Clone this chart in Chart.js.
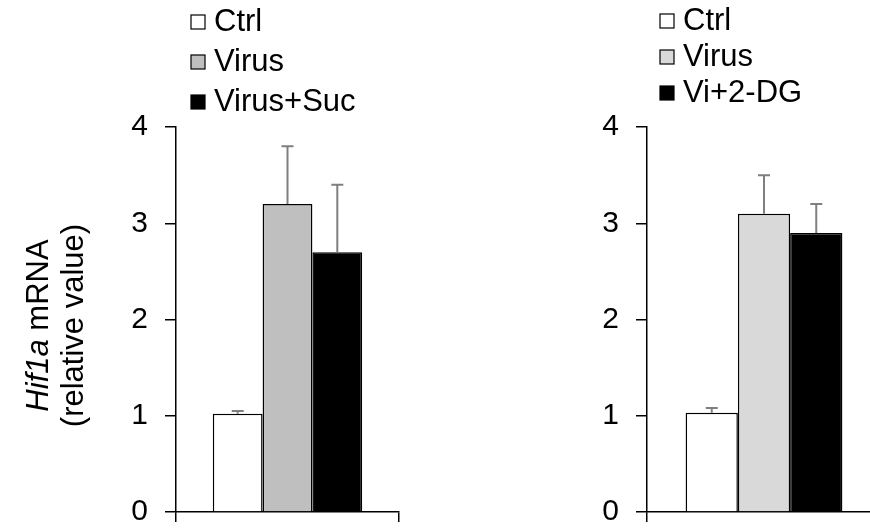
<!DOCTYPE html>
<html>
<head>
<meta charset="utf-8">
<script src="https://cdn.jsdelivr.net/npm/chart.js@4.4.0/dist/chart.umd.min.js"></script>
<style>
  html, body { margin: 0; padding: 0; background: #fff; overflow: hidden; }
  #wrap { width: 870px; height: 528px; position: relative; overflow: hidden; }
  .panel { position: absolute; top: 0; height: 528px; }
</style>
</head>
<body>
<div id="wrap">
<div class="panel" style="left:0;width:430px"><canvas id="leftChart"></canvas></div>
<div class="panel" style="left:430px;width:470px"><canvas id="rightChart"></canvas></div>
</div>
<script>
// data
var yTicks = [0, 1, 2, 3, 4];
var leftLabels = ['Ctrl', 'Virus', 'Virus+Suc'];
var leftMeans = [1.02, 3.2, 2.7];
var leftErrs = [0.03, 0.6, 0.7];
var leftColors = ['#ffffff', '#bfbfbf', '#000000'];

var rightLabels = ['Ctrl', 'Virus', 'Vi+2-DG'];
var rightMeans = [1.03, 3.1, 2.9];
var rightErrs = [0.05, 0.4, 0.3];
var rightColors = ['#ffffff', '#d9d9d9', '#000000'];

var FONT = 'Arial, "Liberation Sans", sans-serif';
var FS = 30;

// error bars (only upper whisker)
var errorBars = {
    id: 'errorBars',
    afterDatasetsDraw: function(chart, args, opts){
        var ctx = chart.ctx;
        var y = chart.scales.y;
        ctx.save();
        ctx.strokeStyle = '#7f7f7f';
        ctx.lineWidth = 2;
        chart.data.datasets.forEach(function(ds, i){
            var bar = chart.getDatasetMeta(i).data[0];
            var top = y.getPixelForValue(ds.data[0] + ds.err);
            ctx.beginPath();
            ctx.moveTo(bar.x, bar.y);
            ctx.lineTo(bar.x, top);
            ctx.moveTo(bar.x - 6, top);
            ctx.lineTo(bar.x + 6, top);
            ctx.stroke();
        });
        ctx.restore();
    }
};

// vertical legend at the top
var boxLegend = {
    id: 'boxLegend',
    afterDraw: function(chart, args, opts){
        var ctx = chart.ctx;
        ctx.save();
        ctx.font = '31px ' + FONT;
        ctx.textBaseline = 'middle';
        chart.data.datasets.forEach(function(ds, i){
            var cy = opts.y + i * opts.gap;
            ctx.fillStyle = ds.backgroundColor;
            ctx.fillRect(opts.x, cy - 7, 14, 14);
            ctx.strokeStyle = '#000';
            ctx.lineWidth = 1.2;
            ctx.strokeRect(opts.x, cy - 7, 14, 14);
            ctx.fillStyle = '#000';
            ctx.fillText(ds.label, opts.x + 23, cy);
        });
        ctx.restore();
    }
};

// y title with italic gene name
var yTitle = {
    id: 'yTitle',
    afterDraw: function(chart, args, opts){
        if(!opts.show) return;
        var ctx = chart.ctx;
        var a = chart.chartArea;
        var cy = (a.top + a.bottom) / 2 + 6;
        ctx.save();
        ctx.fillStyle = '#000';
        ctx.textBaseline = 'middle';
        ctx.translate(39, cy);
        ctx.rotate(-Math.PI / 2);
        var it = 'italic 31px ' + FONT;
        var nm = '31px ' + FONT;
        ctx.font = it;
        var w1 = ctx.measureText('Hif1a').width;
        ctx.font = nm;
        var w2 = ctx.measureText(' mRNA').width;
        var x0 = -(w1 + w2) / 2;
        ctx.font = it;
        ctx.fillText('Hif1a', x0, 0);
        ctx.font = nm;
        ctx.fillText(' mRNA', x0 + w1, 0);
        ctx.textAlign = 'center';
        ctx.fillText('(relative value)', 0, 35);
        ctx.restore();
    }
};

function makeChart(id, labels, means, errs, colors, yWidth, padRight, legendOpts, showTitle){
    var datasets = [];
    for(var i in labels){
        datasets.push({
            label: labels[i],
            data: [means[i]],
            err: errs[i],
            backgroundColor: colors[i],
            borderColor: '#000',
            borderWidth: 1.5,
            categoryPercentage: 0.67,
            barPercentage: 1.0
        });
    }
    return new Chart(document.getElementById(id), {
        type: 'bar',
        data: { labels: [''], datasets: datasets },
        plugins: [errorBars, boxLegend, yTitle],
        options: {
            responsive: true,
            maintainAspectRatio: false,
            animation: false,
            layout: { padding: { top: 127, right: padRight, bottom: 0, left: 0 } },
            plugins: {
                legend: { display: false },
                tooltip: { enabled: false },
                boxLegend: legendOpts,
                yTitle: { show: showTitle }
            },
            scales: {
                x: {
                    grid: { offset: true, drawOnChartArea: false, drawTicks: true, tickLength: 10, color: '#000', lineWidth: 1.5 },
                    border: { display: true, color: '#000', width: 1.5 },
                    ticks: { callback: function(){ return ''; } },
                    afterFit: function(s){ s.height = 16; s.paddingLeft = 0; s.paddingRight = 0; }
                },
                y: {
                    min: 0,
                    max: 4,
                    afterBuildTicks: function(s){ s.ticks = yTicks.map(function(v){ return { value: v }; }); },
                    grid: { drawOnChartArea: false, drawTicks: true, tickLength: 11, color: '#000', lineWidth: 1.5 },
                    border: { display: true, color: '#000', width: 1.5 },
                    ticks: { color: '#000', padding: 17, font: { size: FS, family: FONT } },
                    afterFit: function(s){ s.width = yWidth; s.paddingTop = 0; s.paddingBottom = 0; }
                }
            }
        }
    });
}

makeChart('leftChart', leftLabels, leftMeans, leftErrs, leftColors, 176, 31, { x: 191, y: 22, gap: 40 }, true);
makeChart('rightChart', rightLabels, rightMeans, rightErrs, rightColors, 217, 19, { x: 230, y: 21, gap: 36 }, false);
</script>
</body>
</html>
